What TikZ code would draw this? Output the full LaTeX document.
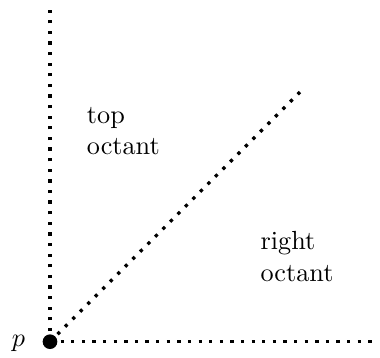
\documentclass[tikz,border=0pt]{standalone}
\begin{document}
\begin{tikzpicture}[x=1pt,y=1pt,
  dotline/.style={line width=1.25pt, dash pattern=on 1.25pt off 2.8pt},
  lbl/.style={anchor=base west, inner sep=0pt, align=left}]
\useasboundingbox (0,0) rectangle (145.04,136.64);
\coordinate (p) at (19.08,6.22);
\coordinate (top) at (19.08,132.8);
\coordinate (right) at (144.3,6.22);
\coordinate (diag) at (114.5,101.5);
\draw[dotline] (p) -- (top);
\draw[dotline] (p) -- (right);
\draw[dotline] (p) -- (diag);
\fill (p) circle (2.8pt);
\node[lbl] (plabel) at (4.3,4.3) {$p$};
\node[lbl] (toplbl) at (33.0,77.6) {top\\octant};
\node[lbl] (rightlbl) at (99.3,29.3) {right\\octant};
\end{tikzpicture}
\end{document}
